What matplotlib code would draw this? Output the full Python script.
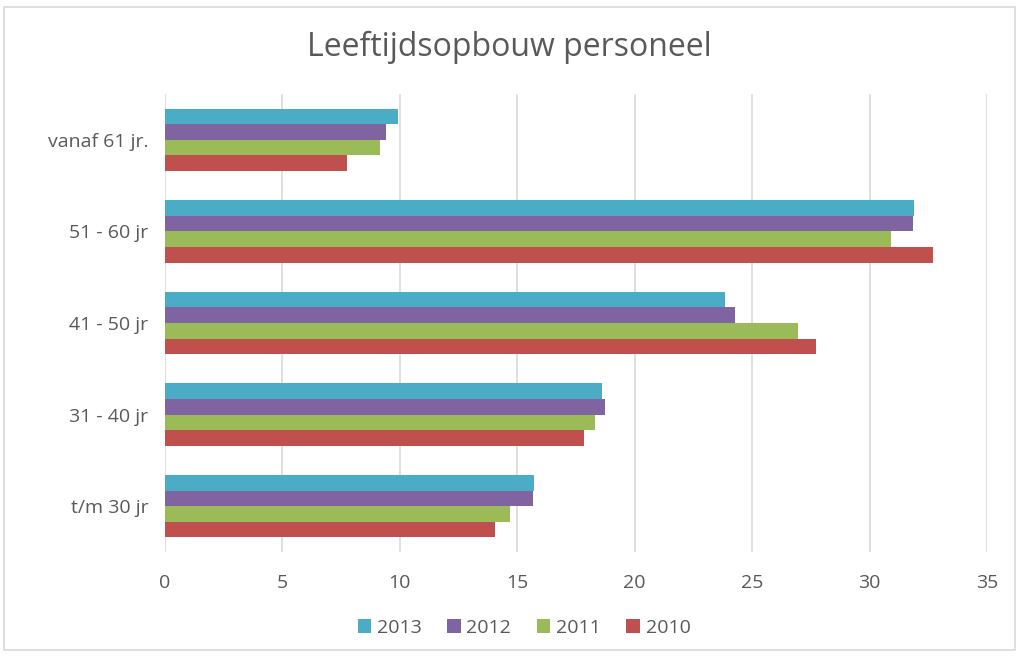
import matplotlib
matplotlib.use("Agg")
import matplotlib.pyplot as plt
from matplotlib.patches import Rectangle
import numpy as np

categories = ["t/m 30 jr", "31 - 40 jr", "41 - 50 jr", "51 - 60 jr", "vanaf 61 jr."]
years = ["2013", "2012", "2011", "2010"]
v2013 = [15.7, 18.6, 23.85, 31.9, 9.9]
v2012 = [15.65, 18.75, 24.25, 31.85, 9.4]
v2011 = [14.7, 18.3, 26.95, 30.9, 9.15]
v2010 = [14.05, 17.85, 27.7, 32.7, 7.75]
series = [v2013, v2012, v2011, v2010]
colors = ["#4BACC6", "#8064A2", "#9BBB59", "#C0504D"]

plt.rcParams['font.family'] = ['Open Sans', 'DejaVu Sans']
fig = plt.figure(figsize=(10.19, 6.57), dpi=100)
ax = fig.add_axes([165/1019, 1-552/657, (987-165)/1019, (552-94)/657])

y = np.arange(len(categories))
h = 0.17
offsets = [1.5*h, 0.5*h, -0.5*h, -1.5*h]
for vals, yr, c, off in zip(series, years, colors, offsets):
    ax.barh(y + off, vals, height=h, color=c, label=yr, zorder=3)

ax.set_xlim(0, 35)
ax.set_ylim(-0.5, 4.5)
ax.set_xticks(np.arange(0, 36, 5))
ax.set_yticks(y)
ax.set_yticklabels(categories)
ax.grid(axis='x', color='#D9D9D9', linewidth=1.2, zorder=0)
for s in ax.spines.values():
    s.set_visible(False)
ax.tick_params(axis='both', length=0, labelsize=14, colors='#595959')
ax.tick_params(axis='y', pad=12)
ax.tick_params(axis='x', pad=16)

fig.text(0.5, 1-47/657, "Leeftijdsopbouw personeel", ha='center', va='center',
         fontsize=23, color='#595959')

leg = fig.legend(loc='center', bbox_to_anchor=(524/1019, 1-628/657), ncol=4,
                 frameon=False, fontsize=14, handlelength=0.7, handleheight=0.7,
                 handletextpad=0.3, columnspacing=1.3)
for t in leg.get_texts():
    t.set_color('#595959')

fig.patches.append(Rectangle((4/1019, 1-650/657), 1011/1019, 643/657,
                             transform=fig.transFigure, fill=False,
                             edgecolor='#D9D9D9', linewidth=1.2))

fig.savefig("out.png", dpi=100)
